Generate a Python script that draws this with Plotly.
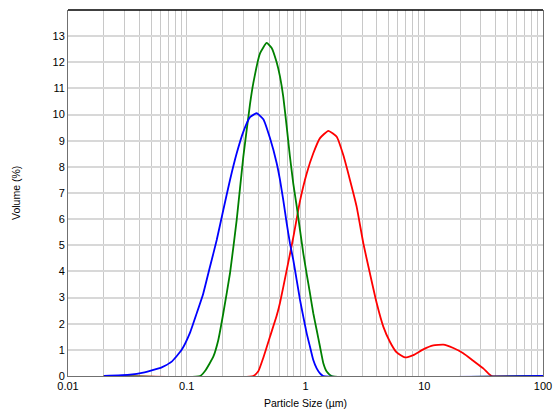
import plotly.graph_objects as go

# ---- data ----
red_x = [0.02, 0.363, 0.4005, 0.4414, 0.502, 0.5716, 0.610, 0.6946, 0.789, 0.899, 1.0235, 1.163,
         1.325, 1.556, 1.832, 2.081, 2.371, 2.698, 3.07, 3.49, 3.98, 4.52, 5.15, 5.86, 6.88, 8.09,
         9.82, 11.92, 14.46, 17.57, 21.3, 25.9, 31.4, 34.6, 37.0, 100]
red_y = [0, 0, 0.18, 0.7, 1.5, 2.3, 2.8, 4.05, 5.3, 6.7, 7.75, 8.52,
         9.1, 9.38, 9.15, 8.45, 7.49, 6.47, 5.07, 3.92, 2.78, 1.89, 1.3, 0.9, 0.71, 0.8,
         1.02, 1.17, 1.2, 1.07, 0.87, 0.58, 0.29, 0.1, 0, 0]

green_x = [0.02, 0.1294, 0.143, 0.1674, 0.1844, 0.2031, 0.2313, 0.2634, 0.2994, 0.341, 0.3634,
           0.414, 0.471, 0.519, 0.5716, 0.610, 0.650, 0.6946, 0.740, 0.789, 0.843, 0.899, 0.958,
           1.0235, 1.091, 1.163, 1.242, 1.325, 1.413, 1.508, 1.662, 100]
green_y = [0, 0, 0.2, 0.74, 1.38, 2.4, 3.93, 5.97, 8.38, 10.4, 11.2,
           12.34, 12.74, 12.55, 12.0, 11.45, 10.68, 9.53, 8.38, 7.36, 6.5, 5.58, 4.69,
           3.9, 3.16, 2.4, 1.76, 1.12, 0.49, 0.17, 0, 0]

blue_x = [0.0201, 0.0333, 0.043, 0.0615, 0.0747, 0.0906, 0.1064, 0.1213, 0.1378, 0.1569, 0.1788,
          0.2031, 0.2313, 0.2634, 0.2994, 0.341, 0.388, 0.4414, 0.502, 0.5716, 0.610, 0.650,
          0.6946, 0.740, 0.789, 0.843, 0.899, 0.958, 1.0235, 1.091, 1.163, 1.242, 1.325, 1.413, 100]
blue_y = [0, 0.05, 0.13, 0.33, 0.55, 1.0, 1.65, 2.4, 3.16, 4.18, 5.2,
          6.35, 7.5, 8.52, 9.34, 9.9, 10.05, 9.82, 9.1, 8.15, 7.5, 6.73,
          5.84, 5.07, 4.44, 3.67, 2.91, 2.27, 1.63, 1.12, 0.61, 0.29, 0.1, 0, 0]

decades = [0.01, 0.1, 1, 10, 100]
decade_labels = ["0.01", "0.1", "1", "10", "100"]
y_ticks = list(range(0, 14))
x_title = "Particle Size (µm)"
y_title = "Volume (%)"

x_tickvals = []
x_ticktext = []
for d, lab in zip(decades, decade_labels):
    x_tickvals.append(d)
    x_ticktext.append(lab)
    if d < 100:
        for m in range(2, 10):
            x_tickvals.append(d * m)
            x_ticktext.append("")

fig = go.Figure()
for xs, ys, col in [(red_x, red_y, "#ff0000"), (green_x, green_y, "#008000"), (blue_x, blue_y, "#0000ff")]:
    fig.add_trace(go.Scatter(x=xs, y=ys, mode="lines",
                             line=dict(color=col, width=1.8, shape="spline", smoothing=0.4),
                             showlegend=False, hoverinfo="skip"))

tick_font = dict(family="Arial, Liberation Sans, sans-serif", size=11, color="#000000")
title_font = dict(family="Arial, Liberation Sans, sans-serif", size=10.5, color="#000000")
fig.update_layout(
    width=553, height=409,
    margin=dict(l=68, r=10, t=9.5, b=33, autoexpand=False),
    paper_bgcolor="white", plot_bgcolor="white",
    font=tick_font,
    hovermode=False,
    xaxis=dict(type="log", range=[-2, 2], tickvals=x_tickvals, ticktext=x_ticktext,
               showgrid=True, gridcolor="#c8c8c8", gridwidth=1, zeroline=False,
               showline=True, linecolor="#707070", linewidth=1, ticks="",
               automargin=False, tickangle=0, tickfont=tick_font, ticklabeloverflow="allow"),
    yaxis=dict(range=[0, 14], tickvals=y_ticks, ticktext=[str(v) for v in y_ticks],
               showgrid=True, gridcolor="#d8d8d8", gridwidth=2, zeroline=False,
               showline=True, linecolor="#707070", linewidth=1, mirror=True, ticks="",
               automargin=False, tickfont=tick_font, ticklabeloverflow="allow"),
    shapes=[dict(type="line", xref="paper", yref="paper", x0=0, x1=1, y0=1, y1=1,
                 line=dict(color="#000000", width=1.5))],
    annotations=[
        dict(text=x_title, xref="paper", yref="paper", x=0.5, y=0, xanchor="center",
             yanchor="middle", yshift=-27, showarrow=False, font=title_font),
        dict(text=y_title, xref="paper", yref="paper", x=0, y=0.5, xanchor="center",
             yanchor="middle", xshift=-52, textangle=-90, showarrow=False, font=title_font),
    ],
)

fig.write_html("out.html", config={"displayModeBar": False},
               post_script="document.body.style.margin='0px';document.body.style.overflow='hidden';")
